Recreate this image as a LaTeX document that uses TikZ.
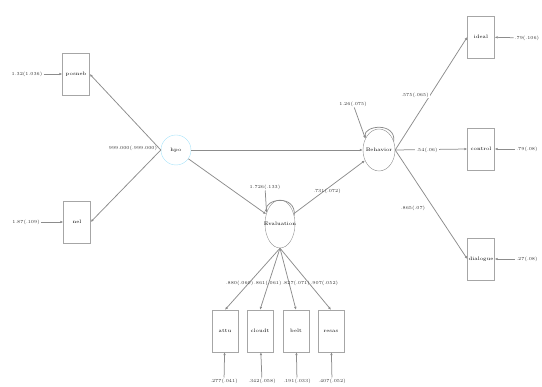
\documentclass[tikz,border=0pt]{standalone}
\usepackage{tikz}
\usetikzlibrary{arrows.meta}
\usetikzlibrary{shapes.geometric}
\tikzset{
    obs/.style={shape=rectangle, draw=black!35, minimum width=27pt, minimum height=42pt, inner sep=1pt, font=\fontsize{5}{6}\selectfont},
    lat/.style={shape=ellipse, draw=black!45, inner sep=0pt, font=\fontsize{5}{6}\selectfont},
    lbl/.style={inner sep=1pt, text=black!80, font=\fontsize{4.6}{5}\selectfont},
    path/.style={draw=black!45, line width=0.75pt, -{Latex[length=3pt, width=2.6pt]}}}

\begin{document}
\begin{tikzpicture}[x=1pt, y=-1pt]

            \useasboundingbox (0,0) rectangle (542,387);

            % latent variables
            \node[lat, draw=cyan!35, minimum width=30pt, minimum height=30pt] (hpo) at (176,150) {\makebox[0pt]{hpo}};
            \node[lat, minimum width=30pt, minimum height=48pt] (eval) at (280,224) {\makebox[0pt]{Evaluation}};
            \node[lat, minimum width=32pt, minimum height=42pt] (behav) at (379,150) {\makebox[0pt]{Behavior}};

            % indicators
            \node[obs] (posneb) at (76,74) {posneb};
            \node[obs] (nel) at (77,222) {nel};
            \node[obs] (ideal) at (481,37) {ideal};
            \node[obs] (control) at (481,149) {control};
            \node[obs] (dialog) at (481,259) {dialogue};
            \node[obs, minimum width=26pt] (attu) at (225,331) {attu};
            \node[obs, minimum width=26pt] (cloud) at (260,331) {cloudt};
            \node[obs, minimum width=26pt] (belt) at (296,331) {belt};
            \node[obs, minimum width=26pt] (resas) at (331,331) {resas};

            % error terms
            \node[lbl] (eposneb) at (27,74) {1.32(1.036)};
            \node[lbl] (enel) at (26,222) {1.87(.109)};
            \node[lbl] (eideal) at (527,38) {.79(.106)};
            \node[lbl] (econtrol) at (527,149) {.79(.08)};
            \node[lbl] (edialog) at (527,259) {.27(.08)};
            \node[lbl] (eattu) at (224,381) {.277(.041)};
            \node[lbl] (ecloud) at (262,381) {.342(.058)};
            \node[lbl] (ebelt) at (297,381) {.191(.033)};
            \node[lbl] (eresas) at (332,381) {.407(.052)};

            \draw[path] (eposneb) -- (posneb);
            \draw[path] (enel) -- (nel);
            \draw[path] (eideal) -- (ideal);
            \draw[path] (econtrol) -- (control);
            \draw[path] (edialog) -- (dialog);
            \draw[path] (eattu) -- (attu);
            \draw[path] (ecloud) -- (cloud);
            \draw[path] (ebelt) -- (belt);
            \draw[path] (eresas) -- (resas);

            % paths
            \draw[path] (hpo.west) -- (posneb.east);
            \draw[path] (hpo.west) -- (nel.east);
            \draw[path] (hpo.east) -- (behav.west);
            \draw[path] (hpo) -- (eval);
            \draw[path] (eval) -- (behav);
            \draw[path] (behav.east) -- (ideal.west);
            \draw[path] (behav.east) -- (control.west);
            \draw[path] (behav.east) -- (dialog.west);
            \draw[path] (eval.south) -- (attu.north);
            \draw[path] (eval.south) -- (cloud.north);
            \draw[path] (eval.south) -- (belt.north);
            \draw[path] (eval.south) -- (resas.north);

            % variances
            \node[lbl] (veval) at (265,187) {1.726(.133)};
            \node[lbl] (vbehav) at (353,104) {1.26(.075)};
            \draw[path] (eval.30) .. controls +(2,-22) and +(-2,-14) .. (eval.140);
            \draw[path] (veval) -- (eval.140);
            \draw[path] (behav.30) .. controls +(2,-20) and +(-2,-13) .. (behav.140);
            \draw[path] (vbehav) -- (behav.140);

            % estimates
            \node[lbl] (lhpo) at (133,148) {999.000(.999.000)};
            \node[lbl] (lbehav) at (327,191) {.731(.072)};
            \node[lbl] (lbottom) at (282,283) {.880(.060)\,.861(.061)\,.827(.071)\,.907(.052)};
            \node[lbl, fill=white] (lideal) at (415,95) {.575(.065)};
            \node[lbl, fill=white] (lcontrol) at (427,150) {.54(.06)};
            \node[lbl, fill=white] (ldialog) at (413,208) {.865(.07)};

        \end{tikzpicture}
\end{document}
